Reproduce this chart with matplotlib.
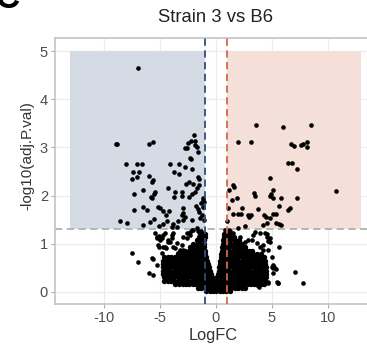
import matplotlib
matplotlib.use("Agg")
import matplotlib.pyplot as plt
from matplotlib.patches import Rectangle

plt.rcParams['font.family'] = ['Liberation Sans', 'DejaVu Sans']

title = "Strain 3 vs B6"
x_label = "LogFC"
y_label = "-log10(adj.P.val)"
x_ticks = [-10, -5, 0, 5, 10]
y_ticks = [0, 1, 2, 3, 4, 5]
fc_cut = 1.0
p_cut = 1.3
shade_x = 13.0
shade_top = 5.0

# significant down-regulated genes (LogFC, -log10 adj.P)
sig_down_x = [-6.9, -8.9, -8.85, -6.0, -5.57, -1.94, -2.23, -2.45, -1.85, -2.74, -1.7, -1.6,
              -8.0, -7.05, -6.6, -7.36, -6.85, -7.5, -7.0, -6.0, -5.63, -5.69, -4.08, -3.28,
              -3.72, -3.25, -2.23, -2.14, -1.55, -1.46, -2.65, -2.36, -2.05, -1.46, -6.46,
              -7.3, -5.39, -5.48, -5.71, -5.8, -4.23, -3.63, -3.7, -3.04, -3.04, -2.36, -2.14,
              -1.85, -1.7, -1.16, -1.04, -7.3, -6.46, -6.16, -5.15, -4.97, -4.68, -4.44, -4.14,
              -2.95, -2.89, -2.74, -3.04, -1.76, -1.55, -1.46, -1.4, -8.55, -7.95, -6.52, -5.87,
              -5.48, -5.03, -4.68, -4.32, -3.84, -3.34, -2.89, -2.14, -3.88, -3.43, -1.1, -1.25,
              -1.02, -1.85, -2.6, -2.29, -2.74, -1.34, -1.16, -1.7]
sig_down_y = [4.65, 3.07, 3.08, 3.08, 3.12, 3.26, 3.14, 3.10, 3.13, 2.98, 3.01, 2.90,
              2.66, 2.66, 2.66, 2.49, 2.49, 2.35, 2.39, 2.41, 2.32, 2.29, 2.66, 2.66,
              2.49, 2.45, 2.76, 2.56, 2.39, 2.35, 2.24, 2.28, 2.25, 2.22, 2.12,
              2.03, 2.07, 2.03, 1.94, 1.97, 2.15, 2.07, 1.98, 2.07, 1.99, 1.98, 2.03,
              2.08, 2.15, 1.91, 1.87, 1.70, 1.77, 1.70, 1.77, 1.74, 1.67, 1.60, 1.67,
              1.74, 1.63, 1.56, 1.60, 1.78, 1.72, 1.65, 1.53, 1.47, 1.44, 1.38, 1.45,
              1.51, 1.37, 1.42, 1.48, 1.42, 1.48, 1.49, 1.49, 1.34, 1.34, 1.76, 1.60,
              1.49, 3.05, 2.98, 2.77, 2.60, 1.84, 1.94, 1.32]

# significant up-regulated genes
sig_up_x = [3.6, 5.98, 8.51, 1.96, 3.13, 6.7, 6.99, 7.62, 7.82, 8.13, 8.13, 6.48, 6.79, 7.29,
            4.85, 10.71, 1.57, 1.66, 1.21, 3.42, 3.51, 5.09, 4.94, 5.09, 5.83, 7.23, 1.43,
            1.88, 1.05, 2.32, 3.8, 5.68, 6.48, 6.63, 1.52, 2.02, 2.23, 2.86, 3.0, 3.15, 4.31,
            4.46, 5.14, 5.38, 4.85, 5.36, 5.83, 1.96, 2.62, 4.25, 4.55, 1.02, 4.85, 5.68]
sig_up_y = [3.47, 3.43, 3.47, 3.12, 3.12, 3.08, 3.03, 3.05, 3.07, 3.12, 3.01, 2.67, 2.67, 2.56,
            2.36, 2.10, 2.22, 2.17, 2.12, 2.06, 1.99, 2.12, 2.03, 1.96, 1.96, 1.96, 1.91,
            1.96, 1.75, 1.75, 1.72, 1.78, 1.70, 1.75, 1.61, 1.61, 1.61, 1.60, 1.55, 1.60, 1.60,
            1.55, 1.61, 1.62, 1.53, 1.44, 1.39, 1.33, 1.37, 1.39, 1.43, 1.47, 2.00, 1.40]

# non-significant genes outside the dense core
ns_x = [-7.5, -6.96, -5.63, -5.93, -5.57, -5.03, -4.82, -4.68, -5.12, -4.53, -4.82, -4.23,
        -3.93, -3.79, -3.48, -2.89, -3.34, -2.59, -2.29, -2.0, -5.42, -5.21, -5.03, -4.44,
        -4.08, -3.79, -3.19, -5.27, -1.6, -1.3,
        -5.27, -4.97, -4.53, -4.23, -3.93, -4.68, -3.63, -3.04, -2.89, -3.34, -2.59, -2.29,
        -2.14, -5.71,
        1.13, 1.43, 1.57, 1.88, 2.17, 2.46, 2.91, 3.36, 3.66, 3.96, 4.25, 4.55, 4.7, 5.0,
        5.09, 5.14, 7.08, 4.25, 4.7, 5.45, 3.66, 5.14, 7.77, 5.59, 3.87, 5.23, 5.38, 5.63,
        4.7, 4.85, 4.6, 1.2, 0.95, 1.0,
        1.57, 1.72, 2.62, 3.21, 3.51, 4.4, 4.85, 3.96, 4.25, 5.0, 4.7, 5.59, 0.85, 1.3]
ns_y = [0.80, 0.63, 0.68, 0.40, 0.35, 1.16, 1.11, 1.18, 0.98, 0.94, 0.80, 1.08,
        1.18, 0.94, 1.01, 1.15, 0.80, 1.22, 1.25, 1.29, 1.22, 1.11, 0.94, 0.91,
        1.04, 1.22, 0.87, 0.56, 1.27, 1.26,
        1.15, 1.08, 1.22, 1.04, 1.11, 0.94, 0.91, 0.98, 0.87, 0.80, 1.11, 1.18,
        1.29, 0.70,
        1.18, 1.11, 1.22, 1.01, 1.15, 0.94, 1.08, 1.18, 1.01, 1.22, 0.98, 1.15, 0.87, 0.73,
        0.56, 0.49, 0.42, 0.25, 0.18, 0.21, 0.15, 0.39, 0.19, 0.19, 0.11, 0.51, 0.48, 0.93,
        1.05, 1.12, 1.2, 1.28, 1.25, 1.1,
        1.15, 1.08, 1.04, 1.08, 1.25, 1.22, 1.04, 0.94, 0.87, 0.52, 0.21, 0.18, 1.28, 1.27]

# dense overplotted core, row by row: -log10 level and LogFC values on it
core_levels = [0.02, 0.09, 0.16, 0.23, 0.30, 0.37, 0.44, 0.51, 0.58, 0.65, 0.72, 0.79,
               0.86, 0.93, 1.00, 1.07, 1.14, 1.21]
core_left = [
    [-0.85, -0.55, -0.25],
    [-1.6, -1.3, -1.0, -0.7, -0.4, -0.1],
    [-3.6, -3.3, -2.95, -2.65, -2.35, -2.05, -1.75, -1.45, -1.15, -0.85, -0.55, -0.25],
    [-4.6, -4.3, -4.0, -3.7, -3.35, -3.05, -2.75, -2.45, -2.15, -1.8, -1.5, -1.2, -0.9,
     -0.6, -0.3, -0.15],
    [-4.65, -4.35, -4.05, -3.7, -3.4, -3.1, -2.8, -2.5, -2.15, -1.85, -1.55, -1.25, -0.9,
     -0.6, -0.3],
    [-4.7, -4.4, -4.1, -3.75, -3.45, -3.15, -2.85, -2.5, -2.2, -1.9, -1.6, -1.3, -1.0,
     -0.7, -0.4],
    [-4.7, -4.4, -4.05, -3.75, -3.45, -3.1, -2.8, -2.5, -2.2, -1.85, -1.55, -1.25, -0.95,
     -0.65, -0.5],
    [-4.7, -4.35, -4.05, -3.7, -3.4, -3.1, -2.75, -2.45, -2.15, -1.8, -1.5, -1.2, -0.9, -0.6],
    [-4.7, -4.4, -4.1, -3.8, -3.45, -3.15, -2.85, -2.5, -2.2, -1.9, -1.6, -1.25, -0.95, -0.7],
    [-4.7, -4.35, -4.05, -3.75, -3.4, -3.1, -2.8, -2.45, -2.15, -1.85, -1.5, -1.2, -0.9, -0.8],
    [-4.6, -4.3, -4.0, -3.65, -3.35, -3.05, -2.7, -2.4, -2.1, -1.8, -1.45, -1.15, -0.9],
    [-3.4, -3.1, -2.75, -2.45, -2.15, -1.8, -1.5, -1.2, -0.95],
    [-3.0, -2.7, -2.4, -2.05, -1.75, -1.45, -1.15, -0.95],
    [-2.3, -2.0, -1.65, -1.35, -1.05],
    [-2.0, -1.7, -1.4, -1.05],
    [-1.7, -1.4, -1.05],
    [-1.5, -1.25, -1.0],
    [-1.4, -1.15, -1.0],
]
core_right = [
    [0.05, 0.35, 0.65, 0.95, 1.25],
    [0.2, 0.5, 0.8, 1.1, 1.4, 1.7, 2.0, 2.3, 2.6],
    [0.05, 0.35, 0.65, 0.95, 1.3, 1.6, 1.9, 2.2, 2.5, 2.85, 3.15, 3.45, 3.75, 4.05, 4.3],
    [0.05, 0.35, 0.7, 1.0, 1.3, 1.6, 1.95, 2.25, 2.55, 2.85, 3.2, 3.5, 3.8, 4.1, 4.4],
    [0.15, 0.45, 0.75, 1.05, 1.4, 1.7, 2.0, 2.3, 2.65, 2.95, 3.25, 3.55, 3.9, 4.2, 4.45],
    [0.2, 0.5, 0.8, 1.1, 1.45, 1.75, 2.05, 2.35, 2.7, 3.0, 3.3, 3.6, 3.95, 4.25, 4.5],
    [0.25, 0.55, 0.85, 1.2, 1.5, 1.8, 2.1, 2.45, 2.75, 3.05, 3.4, 3.7, 4.0, 4.3, 4.5],
    [0.3, 0.6, 0.9, 1.2, 1.55, 1.85, 2.15, 2.5, 2.8, 3.1, 3.45, 3.75, 4.05, 4.45],
    [0.35, 0.65, 0.95, 1.3, 1.6, 1.9, 2.2, 2.55, 2.85, 3.15, 3.5, 3.8, 4.1, 4.4],
    [0.4, 0.7, 1.0, 1.35, 1.65, 1.95, 2.3, 2.6, 2.9, 3.25, 3.55, 3.85, 4.15, 4.4],
    [0.45, 0.75, 1.05, 1.4, 1.7, 2.0, 2.35, 2.65, 2.95, 3.3, 3.6, 3.95, 4.3],
    [0.5, 0.8, 1.1, 1.45, 1.75, 2.05, 2.4, 2.7, 3.0, 3.35, 3.7, 4.0],
    [0.55, 0.85, 1.15, 1.5, 1.8, 2.1, 2.45, 2.75, 3.0, 3.2],
    [0.6, 0.9, 1.2, 1.55, 1.85, 2.2, 2.6],
    [0.62, 0.95, 1.25, 1.6, 1.95, 2.3],
    [0.65, 0.95, 1.3, 1.65, 2.1],
    [0.7, 1.0, 1.3, 1.6],
    [0.72, 0.95, 1.2],
]

core_x, core_y = [], []
for lvl, lrow, rrow in zip(core_levels, core_left, core_right):
    for v in lrow + rrow:
        core_x.append(v)
        core_y.append(lvl)

W, H = 367, 356
fig = plt.figure(figsize=(W / 100, H / 100), dpi=100)
ax = fig.add_axes([55 / W, 1 - 304 / H, (372 - 55) / W, (304 - 38) / H])

ax.set_xlim(-14.35, 13.95)
ax.set_ylim(-0.25, 5.27)

ax.add_patch(Rectangle((-shade_x, p_cut), shade_x - fc_cut, shade_top - p_cut,
                       facecolor='#d4dbe5', edgecolor='none', zorder=1))
ax.add_patch(Rectangle((fc_cut, p_cut), shade_x - fc_cut, shade_top - p_cut,
                       facecolor='#f5e0d9', edgecolor='none', zorder=1))

ax.axhline(p_cut, color='#b0b0b0', lw=1.3, ls=(0, (4, 2.5)), zorder=2)

pt = dict(s=11, color='black', linewidths=0, zorder=3)
ax.scatter(core_x, core_y, s=15, color='black', linewidths=0, zorder=3)
ax.scatter(ns_x, ns_y, **pt)
ax.scatter(sig_down_x, sig_down_y, **pt)
ax.scatter(sig_up_x, sig_up_y, **pt)

ax.axvline(-fc_cut, color='#2d4e80', lw=1.3, ls=(0, (4, 2.5)), zorder=4)
ax.axvline(fc_cut, color='#cf6a4c', lw=1.3, ls=(0, (4, 2.5)), zorder=4)

ax.set_xticks(x_ticks)
ax.set_yticks(y_ticks)
ax.set_xticklabels([str(t) for t in x_ticks])
ax.set_yticklabels([str(t) for t in y_ticks])
ax.grid(True, color='#ebebeb', lw=0.8, zorder=0)
ax.set_axisbelow(True)
for s in ax.spines.values():
    s.set_color('#c4c4c4')
    s.set_linewidth(1.2)
ax.tick_params(axis='both', colors='#b0b0b0', labelcolor='#4d4d4d', labelsize=10.5,
               length=3, width=0.8, pad=2)

ax.set_xlabel(x_label, fontsize=11.8, color='#333333', labelpad=2)
ax.set_ylabel(y_label, fontsize=11, color='#333333')
ax.yaxis.set_label_coords((34 - 55) / 317, (304 - 156) / 266)

fig.text(216 / W, 1 - 17 / H, title, ha='center', va='center', fontsize=13.3, color='#222222')
fig.text(-4 / W, 1 - 8 / H, "C", ha='left', va='baseline', fontsize=24, fontweight='bold',
         color='black')

fig.savefig('out.png', dpi=100)
